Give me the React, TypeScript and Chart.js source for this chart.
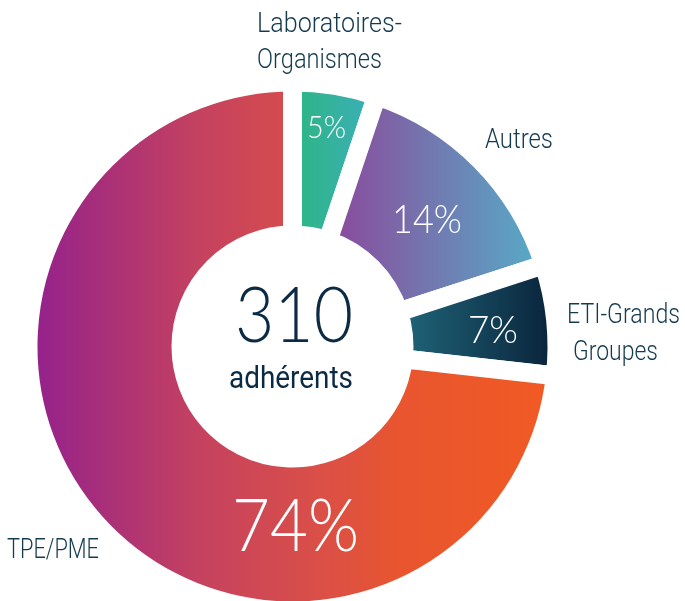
import React, { useEffect, useRef } from 'react';
import { Chart, registerables } from 'chart.js';

Chart.register(...registerables);

// ---- data ----
const categories = ['Laboratoires-Organismes', 'Autres', 'ETI-Grands Groupes', 'TPE/PME'];
// member counts (total = 310 adhérents)
const memberCounts = [16, 46, 21, 227];
const percentLabels = ['5%', '14%', '7%', '74%'];
const categoryLines = [['Laboratoires-', 'Organismes'], ['Autres'], ['ETI-Grands', 'Groupes'], ['TPE/PME']];
const totalMembers = '310';
const totalCaption = 'adhérents';

// ---- style ----
const sliceGradients: [number, string][][] = [
  [[0, '#2cb682'], [1, '#3daeba']],
  [[0, '#8b499b'], [1, '#58a9c6']],
  [[0, '#1f6277'], [1, '#0a263d']],
  [[0, '#95228b'], [0.32, '#c5425f'], [0.575, '#dc5045'], [0.71, '#e8552f'], [1, '#f15a24']],
];
const GAP = 19;
const OUTER_R = 264.5;
const INNER_R = 111.5;
const NAVY = '#143a50';
const DARK = '#0b2a44';
const LABEL_FAMILY = "Roboto, 'Noto Sans', 'DejaVu Sans', sans-serif";
const THIN_FAMILY = "Lato, Roboto, 'Noto Sans', sans-serif";

// text placement relative to chart centre (layout/style)
const labelOffsets: [number, number][][] = [
  [[-35.5, -314.5], [-35.5, -278.5]],
  [[192.5, -198.5]],
  [[274.5, -23.5], [280.5, 13.5]],
  [[-285.5, 211.5]],
];
const labelWidths = [[145, 125], [68], [113, 85], [92]];
const percentOffsets: [number, number][] = [[34, -208.5], [134.5, -113.5], [200.5, -3.5], [3, 204.5]];
const percentSizes = [31, 40, 38, 72];
const percentWidths = [39, 70, 50, 127];

function sectorXRange(cx: number, a0: number, a1: number): [number, number] {
  let mn = Infinity, mx = -Infinity;
  const n = 90;
  for (let k = 0; k <= n; k++) {
    const a = a0 + ((a1 - a0) * k) / n;
    for (const r of [INNER_R + GAP / 2, OUTER_R - GAP / 2]) {
      const x = cx + r * Math.cos(a);
      if (x < mn) mn = x;
      if (x > mx) mx = x;
    }
  }
  return [mn, mx];
}

function sliceBackground(ctx: any) {
  const chart = ctx.chart;
  const area = chart.chartArea;
  const i = ctx.dataIndex;
  if (!area || i === undefined) return '#cccccc';
  const cx = (area.left + area.right) / 2;
  const total = memberCounts.reduce((s, v) => s + v, 0);
  let start = -Math.PI / 2;
  for (let j = 0; j < i; j++) start += (memberCounts[j] / total) * Math.PI * 2;
  const end = start + (memberCounts[i] / total) * Math.PI * 2;
  const [x0, x1] = sectorXRange(cx, start, end);
  const g = chart.ctx.createLinearGradient(x0, 0, x1, 0);
  sliceGradients[i].forEach(([o, c]) => g.addColorStop(o, c));
  return g;
}

function drawFit(c: CanvasRenderingContext2D, text: string, x: number, y: number, align: 'left' | 'center', width: number) {
  const w = c.measureText(text).width || 1;
  const sx = width / w;
  c.save();
  c.translate(x, y);
  c.scale(sx, 1);
  c.textAlign = align;
  c.textBaseline = 'alphabetic';
  c.fillText(text, 0, 0);
  c.restore();
}

const textPlugin = {
  id: 'doughnutTexts',
  afterDatasetsDraw(chart: any) {
    const meta = chart.getDatasetMeta(0);
    if (!meta.data.length) return;
    const cx = meta.data[0].x;
    const cy = meta.data[0].y;
    const c: CanvasRenderingContext2D = chart.ctx;
    c.save();
    c.font = `300 28px ${LABEL_FAMILY}`;
    c.fillStyle = NAVY;
    categoryLines.forEach((lines, i) => {
      lines.forEach((ln, k) => {
        const [dx, dy] = labelOffsets[i][k];
        drawFit(c, ln, cx + dx, cy + dy, 'left', labelWidths[i][k]);
      });
    });
    c.fillStyle = '#ffffff';
    percentLabels.forEach((p, i) => {
      c.font = `300 ${percentSizes[i]}px ${THIN_FAMILY}`;
      const [dx, dy] = percentOffsets[i];
      drawFit(c, p, cx + dx, cy + dy, 'center', percentWidths[i]);
    });
    c.fillStyle = DARK;
    c.font = `300 76px ${THIN_FAMILY}`;
    drawFit(c, totalMembers, cx + 1.5, cy - 4.5, 'center', 118);
    c.font = `400 32px ${LABEL_FAMILY}`;
    drawFit(c, totalCaption, cx - 1.5, cy + 41.5, 'center', 124);
    c.restore();
  },
};

export default function App() {
  const ref = useRef<HTMLCanvasElement | null>(null);
  useEffect(() => {
    if (!ref.current) return;
    const chart = new Chart(ref.current, {
      type: 'doughnut',
      data: {
        labels: categories,
        datasets: [
          {
            data: memberCounts,
            backgroundColor: sliceBackground as any,
            borderColor: '#ffffff',
            borderWidth: GAP,
            hoverOffset: 0,
          },
        ],
      },
      options: {
        responsive: false,
        animation: false,
        events: [],
        radius: OUTER_R,
        cutout: `${(INNER_R / OUTER_R) * 100}%`,
        layout: { padding: { top: 92, left: 0, right: 100, bottom: 0 } },
        plugins: { legend: { display: false }, tooltip: { enabled: false } },
      } as any,
      plugins: [textPlugin],
    });
    return () => chart.destroy();
  }, []);
  return (
    <div style={{ position: 'fixed', left: 0, top: 0, width: 685, height: 601, background: '#fff' }}>
      <canvas ref={ref} width={685} height={601} style={{ display: 'block' }} />
    </div>
  );
}
